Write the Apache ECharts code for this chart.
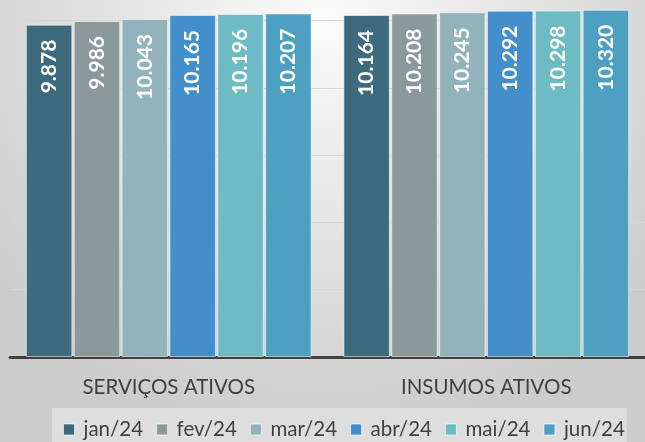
<!DOCTYPE html>
<html>
<head>
<meta charset="utf-8">
<script src="https://cdn.jsdelivr.net/npm/echarts@6/dist/echarts.min.js"></script>
<style>
html,body{margin:0;padding:0;}
#c{width:645px;height:442px;}
</style>
</head>
<body>
<div id="c"></div>
<script>
const categories = ['SERVIÇOS ATIVOS', 'INSUMOS ATIVOS'];
const seriesNames = ['jan/24', 'fev/24', 'mar/24', 'abr/24', 'mai/24', 'jun/24'];
const jan24 = [9.878, 10.164];
const fev24 = [9.986, 10.208];
const mar24 = [10.043, 10.245];
const abr24 = [10.165, 10.292];
const mai24 = [10.196, 10.298];
const jun24 = [10.207, 10.320];
const seriesValues = [jan24, fev24, mar24, abr24, mai24, jun24];
const colors = ['#3e6a7d', '#8a9a9b', '#93b3bc', '#438fcc', '#6dbcc4', '#4ea0c2'];

const chart = echarts.init(document.getElementById('c'));
chart.setOption({
  backgroundColor: {
    type: 'radial', x: 0.5, y: 0.05, r: 0.95,
    colorStops: [{offset: 0, color: '#fbfbfb'}, {offset: 1, color: '#cccccc'}]
  },
  animation: false,
  color: colors,
  grid: {left: 10, right: 0, bottom: 85, top: 0, containLabel: false},
  legend: {
    data: seriesNames,
    left: 52, top: 408,
    padding: [11, 2, 12, 11],
    backgroundColor: '#dedede',
    itemWidth: 11, itemHeight: 11, itemGap: 13,
    icon: 'rect',
    itemStyle: {borderColor: 'rgba(255,255,255,0.6)', borderWidth: 1},
    textStyle: {fontFamily: 'Lato', fontSize: 20.5, color: '#404040', padding: [0, 0, 0, 4]}
  },
  xAxis: {
    type: 'category',
    data: categories,
    axisLine: {lineStyle: {color: '#404040', width: 3}},
    axisTick: {show: false},
    axisLabel: {fontFamily: 'Lato', fontSize: 20.5, color: '#404040', margin: 20}
  },
  yAxis: {
    type: 'value', min: 0, max: 10.61, interval: 2,
    axisLabel: {show: false},
    axisLine: {show: false},
    axisTick: {show: false},
    splitLine: {showMaxLine: false, lineStyle: {color: '#d6d6d6', width: 1}}
  },
  series: seriesNames.map((name, i) => ({
    name: name,
    type: 'bar',
    data: seriesValues[i],
    barCategoryGap: '10%',
    barGap: '3%',
    itemStyle: {color: colors[i], borderColor: 'rgba(255,255,255,0.55)', borderWidth: 1},
    label: {
      show: true,
      position: 'insideTop',
      rotate: 90,
      align: 'right',
      verticalAlign: 'middle',
      distance: 15,
      color: '#ffffff',
      fontFamily: 'Lato',
      fontWeight: 'bold',
      fontSize: 21,
      formatter: p => p.value.toFixed(3)
    }
  }))
});
</script>
</body>
</html>
